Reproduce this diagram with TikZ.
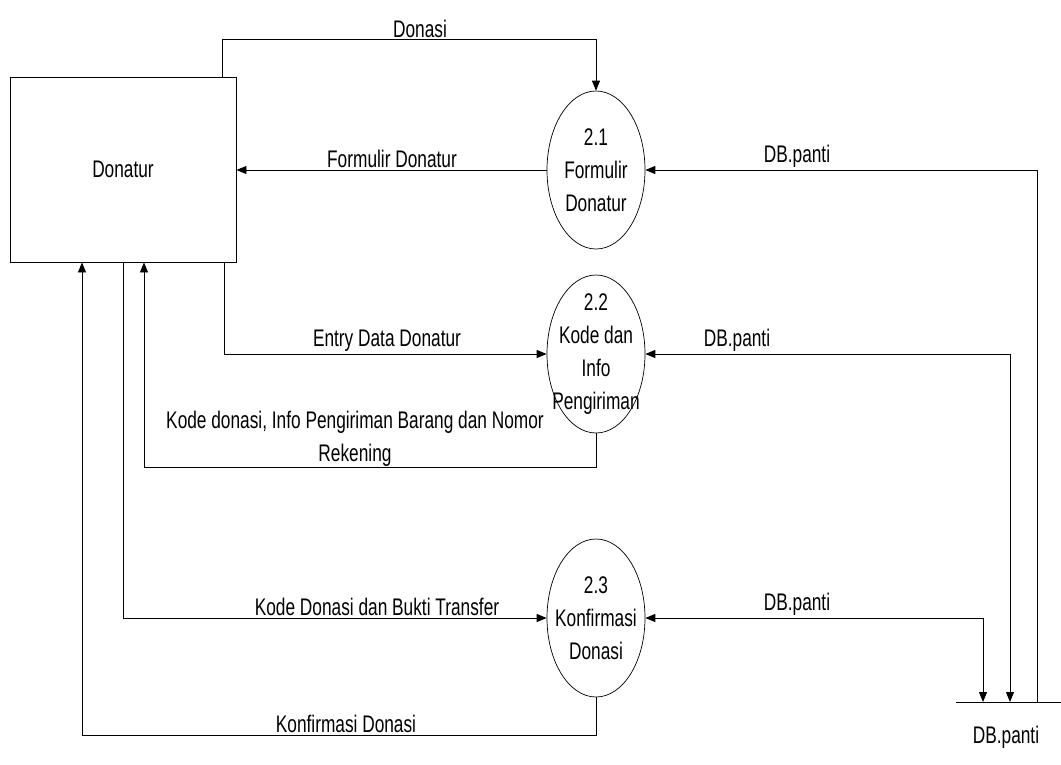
\documentclass[tikz,border=0pt]{standalone}
\usepackage{fontspec}
\setmainfont{Liberation Sans}[FakeStretch=0.72]
\usepackage{tikz}
\usetikzlibrary{arrows.meta,positioning,shapes.geometric}

\begin{document}
\begin{tikzpicture}[
    x=1pt, y=-1pt,
    font=\fontsize{24}{33}\selectfont,
    entity/.style={draw, minimum width=226pt, minimum height=185pt, line width=0.9pt},
    proc/.style={draw, ellipse, minimum width=98pt, minimum height=158pt,
                 inner sep=0pt, line width=0.7pt},
    proctext/.style={align=center, inner sep=0pt},
    store/.style={minimum width=108pt, minimum height=0pt, inner sep=0pt},
    flow/.style={-{Triangle[length=10pt,width=8pt]}, line width=0.9pt},
    dflow/.style={{Triangle[length=10pt,width=8pt]}-{Triangle[length=10pt,width=8pt]},
                  line width=0.9pt},
    flabel/.style={above, inner sep=2pt},
]
\useasboundingbox (0,0) rectangle (1061,764);

% ── External entity ──
\node[entity] (donatur) at (123,169.5) {Donatur};

% ── Processes ──
\node[proc, label={[proctext]center:{2.1\\Formulir\\Donatur}}] (p1) at (596,170) {};
\node[proc, label={[proctext]center:{2.2\\Kode dan\\Info\\Pengiriman}}] (p2) at (596,354) {};
\node[proc, label={[proctext]center:{2.3\\Konfirmasi\\Donasi}}] (p3) at (596,618) {};

% ── Data store ──
\node[store] (db) at (1010,702) {};
\draw[line width=0.9pt] (db.west) -- (db.east);
\node[below=20pt of db, xshift=-4pt] (dbname) {DB.panti};

% ── Flows Donatur <-> processes ──
\draw[flow] ([xshift=99pt]donatur.north) -- ++(0,-37) -| (p1.north);
\draw[flow] (p1.west) -- (p1.west -| donatur.east);
\draw[flow] ([xshift=101pt]donatur.south) |- (p2.west);
\draw[flow] (p2.south) -- ++(0,34) -| ([xshift=21pt]donatur.south);
\draw[flow] (donatur.south) |- (p3.west);
\draw[flow] (p3.south) -- ++(0,38) -| ([xshift=-41pt]donatur.south);

% ── Flows store <-> processes ──
\draw[flow] ([xshift=27pt]db.center) |- (p1.east);
\draw[dflow] (db.center) |- (p2.east);
\draw[dflow] ([xshift=-27pt]db.center) |- (p3.east);

% ── Flow labels ──
\node[flabel] (lDonasi) at (420,40) {Donasi};
\node[flabel] (lForm) at (392,170) {Formulir Donatur};
\node[flabel] (lDb1) at (797,170) {DB.panti};
\node[flabel] (lEntry) at (387,354) {Entry Data Donatur};
\node[flabel] (lDb2) at (737,354) {DB.panti};
\node[flabel, align=center, inner sep=0pt] (lKode) at (355,467)
     {Kode donasi, Info Pengiriman Barang dan Nomor\\Rekening};
\node[flabel] (lBukti) at (377,618) {Kode Donasi dan Bukti Transfer};
\node[flabel] (lDb3) at (797,618) {DB.panti};
\node[flabel] (lKonf) at (346,735) {Konfirmasi Donasi};

\end{tikzpicture}
\end{document}
